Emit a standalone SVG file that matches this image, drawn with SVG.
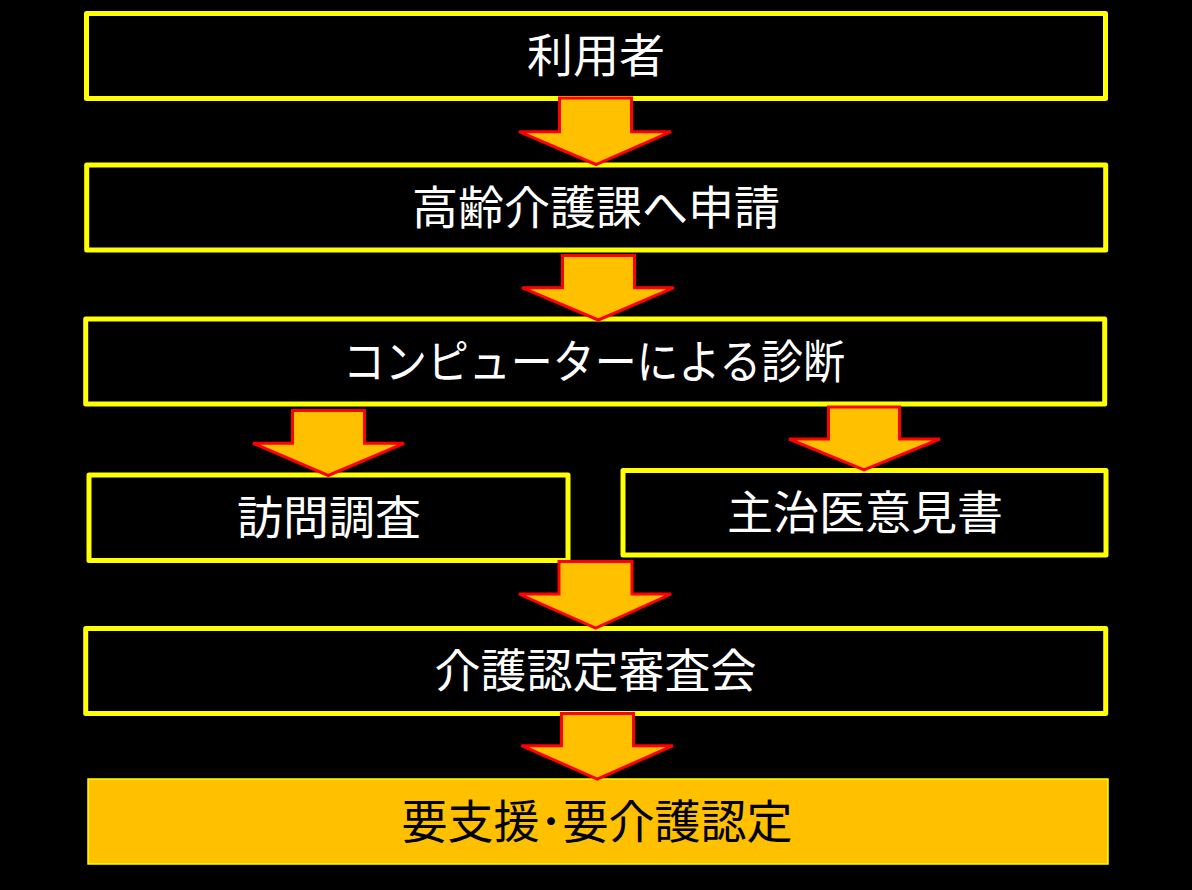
<svg xmlns="http://www.w3.org/2000/svg" width="1192" height="890" viewBox="0 0 1192 890">
<style>
.box{fill:#000;stroke:#FFFF00;stroke-width:5;stroke-linejoin:round}
.final{fill:#FFC000;stroke:#FFFF00;stroke-width:1.5}
.lbl{font-family:"Noto Sans CJK JP","Noto Sans",sans-serif;font-size:46px;fill:#FFFFFF;text-anchor:middle;dominant-baseline:central}
.dark{fill:#000000}
.arrow{fill:#FFC000;stroke:#FF0000;stroke-width:3;stroke-linejoin:miter}
</style>
<rect x="0" y="0" width="1192" height="890" fill="#000"/>
<g id="n1"><rect class="box" x="86.5" y="13.5" width="1019" height="85"/><text class="lbl" x="596" y="52">利用者</text></g>
<g id="n2"><rect class="box" x="86.7" y="165" width="1019" height="85"/><text class="lbl" x="596" y="203.5">高齢介護課へ申請</text></g>
<g id="n3"><rect class="box" x="85.7" y="319" width="1019" height="85"/><text class="lbl" x="594" y="357.5" textLength="502" lengthAdjust="spacingAndGlyphs">コンピューターによる診断</text></g>
<g id="n4"><rect class="box" x="89" y="475" width="479" height="85.5"/><text class="lbl" x="329" y="513.5">訪問調査</text></g>
<g id="n5"><rect class="box" x="623" y="470.5" width="483" height="84.5"/><text class="lbl" x="865" y="508.5">主治医意見書</text></g>
<g id="n6"><rect class="box" x="85.7" y="628.5" width="1020" height="85"/><text class="lbl" x="595.5" y="667">介護認定審査会</text></g>
<g id="n7"><rect class="final" x="88" y="779" width="1020" height="85"/><text class="lbl dark" x="597" y="817.5">要支援･要介護認定</text></g>
<g id="connectors">
<polygon class="arrow" points="559.5,98 631.5,98 631.5,131.7 671,131.7 596,164.5 519,131.7 559.5,131.7"/>
<polygon class="arrow" points="562.5,255.5 634.5,255.5 634.5,287.7 674,287.7 598.3,320 522,287.7 562.5,287.7"/>
<polygon class="arrow" points="292.5,410.5 364.5,410.5 364.5,443.3 404,443.3 328.3,475.5 253,443.3 292.5,443.3"/>
<polygon class="arrow" points="828.5,407 899.5,407 899.5,439 940,439 864,470 789,439 828.5,439"/>
<polygon class="arrow" points="559,561.5 632,561.5 632,594 671,594 595.7,628 519,594 559,594"/>
<polygon class="arrow" points="561.5,713.5 633.5,713.5 633.5,745.7 673,745.7 597.3,779 521.5,745.7 561.5,745.7"/>
</g>
</svg>
